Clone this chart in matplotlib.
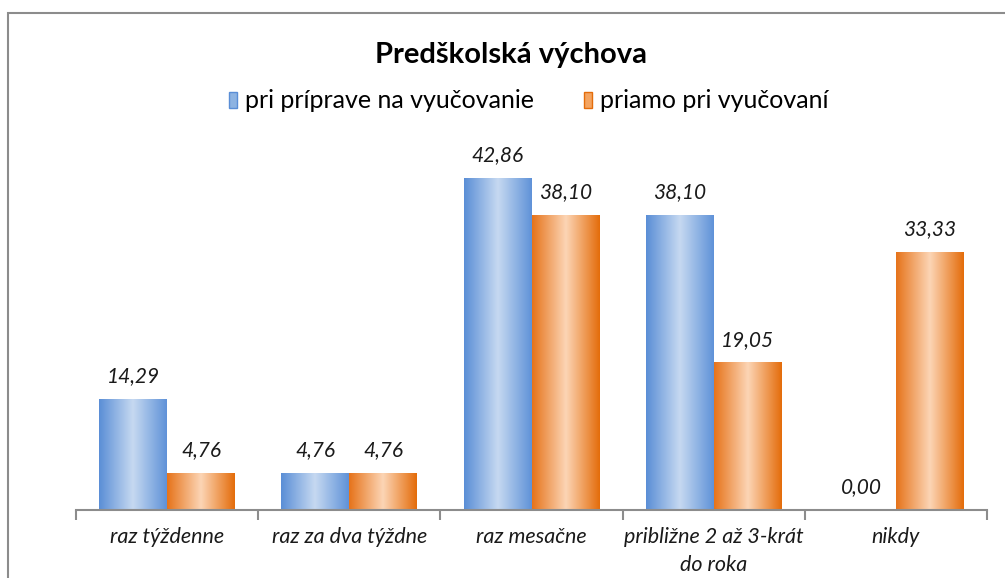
import numpy as np
import matplotlib
matplotlib.use("Agg")
import matplotlib.pyplot as plt
from matplotlib.colors import LinearSegmentedColormap
from matplotlib.patches import Patch, Rectangle

categories = ["raz týždenne", "raz za dva týždne", "raz mesačne",
              "približne 2 až 3-krát\ndo roka", "nikdy"]
series_names = ["pri príprave na vyučovanie", "priamo pri vyučovaní"]
prep_values = [14.29, 4.76, 42.86, 38.10, 0.00]
direct_values = [4.76, 4.76, 38.10, 19.05, 33.33]

plt.rcParams['font.family'] = ['Lato', 'DejaVu Sans']

blue_map = LinearSegmentedColormap.from_list("b", ["#5a8ed6", "#c6d9f1", "#5f92d8"])
orange_map = LinearSegmentedColormap.from_list("o", ["#e6731a", "#fcd5b5", "#e46c0a"])

fig = plt.figure(figsize=(10.05, 5.78), dpi=100)
ax = fig.add_axes([76 / 1005, 1 - 510 / 578, (987 - 76) / 1005, (510 - 123) / 578])

x = np.arange(len(categories))
w = 0.373
grad = np.linspace(0, 1, 256).reshape(1, -1)


def draw_bars(xs, vals, cmap):
    bars = ax.bar(xs, vals, w, color="none", edgecolor="none")
    for b in bars:
        x0 = b.get_x()
        h = b.get_height()
        if h <= 0:
            continue
        ax.imshow(grad, cmap=cmap, aspect="auto", extent=[x0, x0 + b.get_width(), 0, h],
                  zorder=2, interpolation="bilinear")
    return bars


bars1 = draw_bars(x - w / 2, prep_values, blue_map)
bars2 = draw_bars(x + w / 2, direct_values, orange_map)

for bars, vals in ((bars1, prep_values), (bars2, direct_values)):
    for b, v in zip(bars, vals):
        ax.annotate(("%.2f" % v).replace(".", ","), (b.get_x() + b.get_width() / 2, v),
                    xytext=(0, 16.5), textcoords="offset points",
                    ha="center", va="center", fontsize=15, style="italic", color="#1a1a1a")

ax.set_xlim(-0.5, len(categories) - 0.5)
ax.set_ylim(0, 50)

for s in ["top", "right", "left"]:
    ax.spines[s].set_visible(False)
ax.spines["bottom"].set_color("#8c8c8c")
ax.spines["bottom"].set_linewidth(1.5)
ax.set_yticks([])
ax.set_xticks(np.arange(len(categories) + 1) - 0.5, minor=False)
ax.set_xticklabels([])
ax.tick_params(axis="x", which="major", length=7, width=1.5, color="#8c8c8c")
ax.set_xticks(x, minor=True)
ax.set_xticklabels(categories, minor=True, fontsize=15.5, style="italic", color="#1a1a1a",
                   linespacing=1.5)
ax.tick_params(axis="x", which="minor", length=0, pad=12)
for lbl in ax.get_xticklabels(minor=True):
    lbl.set_verticalalignment("top")

fig.text(0.508, 1 - 55 / 578, "Predškolská výchova", ha="center", va="center",
         fontsize=21, fontweight="bold", color="#000000")

handles = [Patch(facecolor="#8db3e2", edgecolor="#5a8ed6"),
           Patch(facecolor="#f4a460", edgecolor="#e46c0a")]
fig.legend(handles, series_names, loc="center", bbox_to_anchor=(0.526, 1 - 101 / 578),
           ncol=2, frameon=False, fontsize=18, handlelength=0.32, handleheight=0.6,
           handletextpad=0.32, columnspacing=2.0)

fig.add_artist(Rectangle((7.5 / 1005, -0.05), 1.1, 1 - 13.5 / 578 + 0.05, transform=fig.transFigure,
                         fill=False, edgecolor="#8c8c8c", linewidth=1.5))

fig.savefig("out.png", dpi=100)
